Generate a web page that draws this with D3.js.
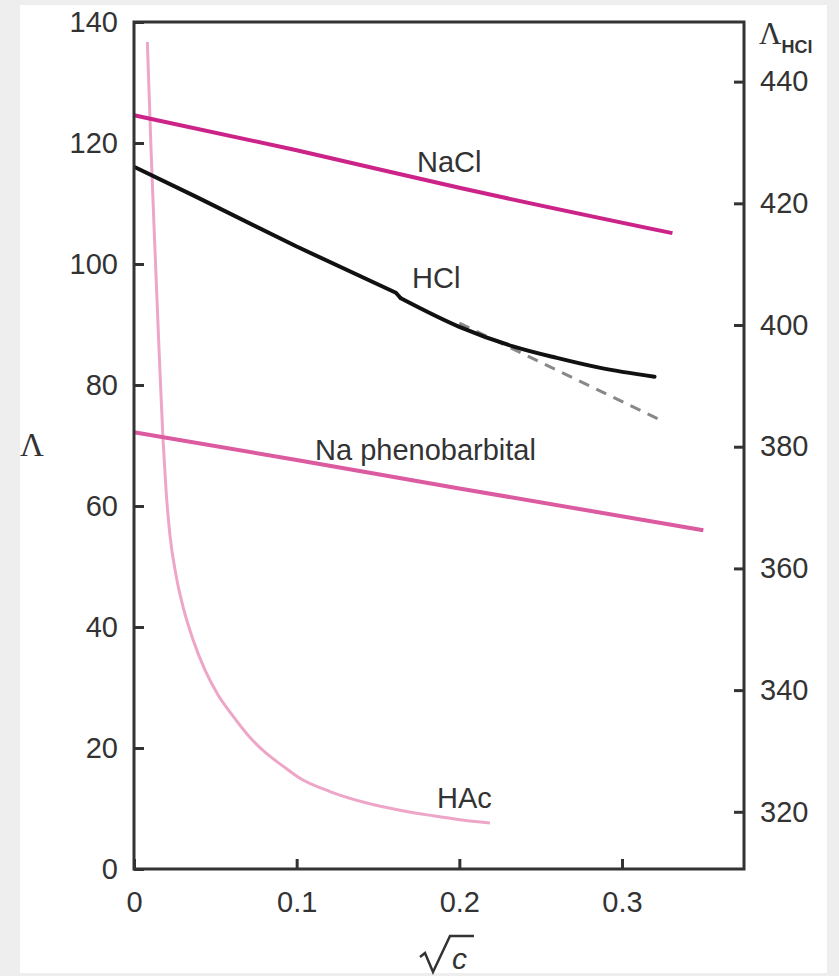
<!DOCTYPE html>
<html>
<head>
<meta charset="utf-8">
<script src="https://cdn.jsdelivr.net/npm/d3@7"></script>
<style>
  body { margin: 0; background: #eeeeee; }
  text { font-family: "Liberation Sans", Arial, sans-serif; fill: #333; }
</style>
</head>
<body>
<div id="vis"></div>
<script>
// values (x = sqrt(c), y = molar conductivity)
var naclPts = [[0, 124.6], [0.1, 118.8], [0.2, 112.6], [0.331, 105.1]];
var phenoPts = [[0, 72.2], [0.1, 67.6], [0.2, 62.9], [0.35, 56.0]];
var hacPts = [[0.0082, 136.7], [0.0105, 118.8], [0.0129, 102.3], [0.0154, 85.8], [0.0178, 71.2],
  [0.0197, 62.6], [0.0221, 55.2], [0.0258, 48.6], [0.0307, 42.8], [0.0363, 37.9], [0.0436, 32.9],
  [0.0516, 28.8], [0.0602, 25.5], [0.0701, 22.1], [0.0805, 19.3], [0.0916, 17.0], [0.102, 15.0],
  [0.1205, 12.8], [0.1432, 10.9], [0.1635, 9.7], [0.1838, 8.8], [0.2004, 8.15], [0.2188, 7.6]];
// HCl is read on the right axis: straight part, then the bending part
var hclStraight = [[0, 426.0], [0.038, 421.1], [0.1, 412.9], [0.161, 405.3], [0.164, 404.4]];
var hclBend = [[0.164, 404.4], [0.2, 399.7], [0.233, 396.5], [0.26, 394.6], [0.286, 393.0], [0.32, 391.5]];
var hclLimit = [[0.2, 400.3], [0.325, 384.2]];

var xTicks = [0, 0.1, 0.2, 0.3];
var yTicks = [0, 20, 40, 60, 80, 100, 120, 140];
var y2Ticks = [320, 340, 360, 380, 400, 420, 440];

var width = 839, height = 976;

var svg = d3.select("#vis")
  .append("svg")
  .attr("width", width)
  .attr("height", height);

// white panel
svg.append("rect")
  .attr("x", 20).attr("y", 5)
  .attr("width", 807).attr("height", 968)
  .attr("fill", "#fff");

var x = d3.scaleLinear().domain([0, 0.375]).range([134, 744]);
var y = d3.scaleLinear().domain([0, 140]).range([869, 22]);
var y2 = d3.scaleLinear().domain([310.6, 449.8]).range([869, 22]);

function styleAxis(g) {
  g.select(".domain").remove();
  g.selectAll(".tick line").attr("stroke", "#333").attr("stroke-width", 3);
  g.selectAll(".tick text").style("font-size", "29px").attr("fill", "#3a3a3a");
}

svg.append("g")
  .attr("transform", "translate(134,0)")
  .call(d3.axisLeft(y).tickValues(yTicks).tickSize(-10).tickPadding(16).tickFormat(d3.format("d")))
  .call(styleAxis);

svg.append("g")
  .attr("transform", "translate(744,0)")
  .call(d3.axisRight(y2).tickValues(y2Ticks).tickSize(-10).tickPadding(16).tickFormat(d3.format("d")))
  .call(styleAxis);

svg.append("g")
  .attr("transform", "translate(0,869)")
  .call(d3.axisBottom(x).tickValues(xTicks).tickSize(-10).tickPadding(22)
    .tickFormat(function(d) { return d === 0 ? "0" : d3.format(".1f")(d); }))
  .call(styleAxis);

// curves
var line = d3.line()
  .x(function(d) { return x(d[0]); })
  .y(function(d) { return y(d[1]); })
  .curve(d3.curveMonotoneX);

var line2 = d3.line()
  .x(function(d) { return x(d[0]); })
  .y(function(d) { return y2(d[1]); })
  .curve(d3.curveMonotoneX);

var line2Straight = d3.line()
  .x(function(d) { return x(d[0]); })
  .y(function(d) { return y2(d[1]); });

svg.append("path").datum(hacPts)
  .attr("d", line).attr("fill", "none")
  .attr("stroke", "#eea6c8").attr("stroke-width", 3);

svg.append("path").datum(phenoPts)
  .attr("d", line).attr("fill", "none")
  .attr("stroke", "#dc5aa0").attr("stroke-width", 4);

svg.append("path").datum(naclPts)
  .attr("d", line).attr("fill", "none")
  .attr("stroke", "#cc2388").attr("stroke-width", 4);

svg.append("path").datum(hclLimit)
  .attr("d", line2Straight).attr("fill", "none")
  .attr("stroke", "#888").attr("stroke-width", 3)
  .attr("stroke-dasharray", "11,8");

svg.append("path").datum(hclStraight)
  .attr("d", line2Straight).attr("fill", "none")
  .attr("stroke", "#111").attr("stroke-width", 4)
  .attr("stroke-linejoin", "round");

svg.append("path").datum(hclBend)
  .attr("d", line2).attr("fill", "none")
  .attr("stroke", "#111").attr("stroke-width", 4)
  .attr("stroke-linecap", "round");

// frame
svg.append("rect")
  .attr("x", x(0)).attr("y", y(140))
  .attr("width", x(0.375) - x(0)).attr("height", y(0) - y(140))
  .attr("fill", "none").attr("stroke", "#333").attr("stroke-width", 3);

// series labels
var labels = [
  { t: "NaCl", x: 417, y: 172 },
  { t: "HCl", x: 412, y: 288 },
  { t: "Na phenobarbital", x: 315, y: 460 },
  { t: "HAc", x: 437, y: 808 }
];
svg.selectAll(".lab").data(labels).enter()
  .append("text")
  .attr("class", "lab")
  .attr("x", function(d) { return d.x; })
  .attr("y", function(d) { return d.y; })
  .style("font-size", "29px")
  .attr("fill", "#333")
  .text(function(d) { return d.t; });

// axis titles
svg.append("text")
  .attr("x", 20).attr("y", 456)
  .style("font-family", "'Liberation Serif', serif")
  .style("font-size", "33px")
  .text("\u039B");

var rt = svg.append("text").attr("x", 759).attr("y", 44);
rt.append("tspan")
  .style("font-family", "'Liberation Serif', serif")
  .style("font-size", "31px")
  .text("\u039B");
rt.append("tspan")
  .attr("dy", 9)
  .style("font-size", "18px")
  .style("font-weight", "bold")
  .text("HCl");

// sqrt(c)
svg.append("path")
  .attr("d", "M420,957 L425,953 L433,972 L450,936 L474,936")
  .attr("fill", "none").attr("stroke", "#333").attr("stroke-width", 2.5);
svg.append("text")
  .attr("x", 452).attr("y", 969)
  .style("font-size", "30px")
  .style("font-style", "italic")
  .text("c");
</script>
</body>
</html>
